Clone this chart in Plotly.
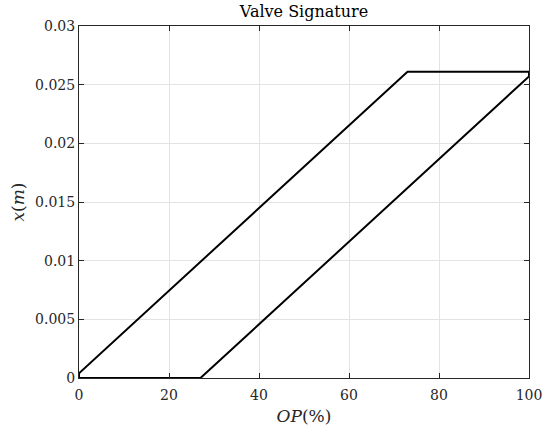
import plotly.graph_objects as go

op_percent = [0, 73, 100, 100, 27, 0, 0]
position_m = [0.0004, 0.0261, 0.0261, 0.0257, 0.0, 0.0, 0.0004]
x_ticks = [0, 20, 40, 60, 80, 100]
y_ticks = [0, 0.005, 0.01, 0.015, 0.02, 0.025, 0.03]
y_tick_text = ["0", "0.005", "0.01", "0.015", "0.02", "0.025", "0.03"]

font_family = "DejaVu Serif, Liberation Serif, serif"

fig = go.Figure()
fig.add_trace(go.Scatter(x=op_percent, y=position_m, mode="lines",
                         line=dict(color="black", width=2), showlegend=False))

axis_common = dict(showline=True, linecolor="#262626", linewidth=1, mirror="ticks",
                   ticks="inside", ticklen=5, tickcolor="#262626",
                   showgrid=True, gridcolor="#e3e3e3", gridwidth=1, zeroline=False,
                   automargin=False,
                   tickfont=dict(family=font_family, size=14, color="#262626"))

fig.update_layout(
    width=543, height=434,
    margin=dict(l=79, r=14, t=26, b=56),
    plot_bgcolor="white", paper_bgcolor="white",
    title=dict(text="Valve Signature", x=(79 + 450 / 2) / 543, xanchor="center",
               y=1 - 11 / 434, yanchor="middle",
               font=dict(family=font_family, size=16, color="black")),
    xaxis=dict(range=[0, 100], tickvals=x_ticks, ticklabelstandoff=4,
               title=dict(text="<i>OP</i>(%)", standoff=8,
                          font=dict(family=font_family, size=17, color="#262626")),
               **axis_common),
    yaxis=dict(range=[0, 0.03], tickvals=y_ticks, ticktext=y_tick_text,
               title=dict(text="<i>x</i>(<i>m</i>)", standoff=6,
                          font=dict(family=font_family, size=17, color="#262626")),
               **axis_common),
)

fig.write_html("out.html", config={"displayModeBar": False},
               post_script="document.body.style.margin='0';")
